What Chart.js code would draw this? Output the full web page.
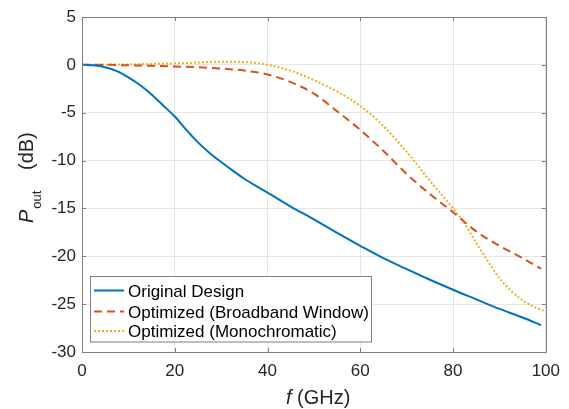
<!DOCTYPE html>
<html>
<head>
<meta charset="utf-8">
<script src="https://cdn.jsdelivr.net/npm/chart.js@4.4.1/dist/chart.umd.min.js"></script>
<style>
  body { margin: 0; background: #fff; }
  #wrap { width: 569px; height: 409px; }
</style>
</head>
<body>
<div id="wrap"><canvas id="poutChart" width="569" height="409"></canvas></div>
<script>
// frequency points (GHz) and output power (dB)
const freqOrig = [0, 2.5, 5, 7.5, 10, 12.5, 15, 17.5, 20, 22.5, 25, 27.5, 30, 32.5, 35, 37.5, 40, 45, 50, 55, 60, 65, 70, 75, 80, 85, 90, 95, 99];
const poutOrig = [0, -0.05, -0.25, -0.65, -1.3, -2.1, -3.1, -4.25, -5.4, -6.8, -8.1, -9.2, -10.15, -11.05, -11.9, -12.65, -13.35, -14.8, -16.15, -17.55, -18.9, -20.2, -21.35, -22.45, -23.5, -24.5, -25.5, -26.4, -27.2];

const freqBroad = [0, 5, 10, 15, 20, 25, 30, 35, 40, 45, 50, 55, 60, 65, 70, 75, 80, 85, 90, 95, 99];
const poutBroad = [0, 0, -0.05, -0.1, -0.17, -0.25, -0.38, -0.6, -1.0, -1.8, -3.0, -4.85, -6.8, -9.0, -11.4, -13.5, -15.4, -17.4, -18.9, -20.2, -21.3];

const freqMono = [0, 5, 10, 15, 20, 25, 30, 35, 40, 45, 50, 55, 60, 65, 70, 75, 80, 82.5, 85, 87.5, 90, 92.5, 95, 97.5, 100];
const poutMono = [0, 0.02, 0.05, 0.1, 0.15, 0.25, 0.33, 0.3, 0.0, -0.6, -1.6, -2.8, -4.3, -6.4, -9.1, -12.1, -15.0, -16.6, -18.6, -20.5, -22.3, -23.6, -24.6, -25.3, -25.8];

const seriesLabels = ['Original Design', 'Optimized (Broadband Window)', 'Optimized (Monochromatic)'];
const xTicks = [0, 20, 40, 60, 80, 100];
const yTicks = [-30, -25, -20, -15, -10, -5, 0, 5];

const FONT = '"Liberation Sans", Arial, Helvetica, sans-serif';
const axisGray = '#7f7f7f';
const textDark = '#262626';

function pts(xs, ys) {
    return xs.map((x, i) => ({ x: x, y: ys[i] }));
}

// box, inward ticks, axis titles and legend (MATLAB look)
const matlabDecor = {
    id: 'matlabDecor',
    afterDraw(chart) {
        const ctx = chart.ctx;
        const a = chart.chartArea;
        const xs = chart.scales.x;
        const ys = chart.scales.y;
        ctx.save();

        // frame
        ctx.strokeStyle = axisGray;
        ctx.lineWidth = 1;
        ctx.strokeRect(Math.round(a.left) + 0.5, Math.round(a.top) + 0.5,
            Math.round(a.right - a.left), Math.round(a.bottom - a.top));

        // inward ticks
        const tl = 4;
        ctx.beginPath();
        xTicks.forEach(v => {
            const px = Math.round(xs.getPixelForValue(v)) + 0.5;
            ctx.moveTo(px, a.bottom); ctx.lineTo(px, a.bottom - tl);
            ctx.moveTo(px, a.top); ctx.lineTo(px, a.top + tl);
        });
        yTicks.forEach(v => {
            const py = Math.round(ys.getPixelForValue(v)) + 0.5;
            ctx.moveTo(a.left, py); ctx.lineTo(a.left + tl, py);
            ctx.moveTo(a.right, py); ctx.lineTo(a.right - tl, py);
        });
        ctx.stroke();

        // legend
        const lx = 90.5, ly = 276.5, lw = 281, lh = 65.5;
        ctx.fillStyle = '#ffffff';
        ctx.fillRect(lx, ly, lw, lh);
        ctx.strokeStyle = axisGray;
        ctx.strokeRect(lx, ly, lw, lh);
        const rows = [290.5, 311.5, 331];
        chart.data.datasets.forEach((ds, i) => {
            ctx.strokeStyle = ds.borderColor;
            ctx.lineWidth = ds.borderWidth;
            ctx.setLineDash(ds.borderDash || []);
            ctx.beginPath();
            ctx.moveTo(94, rows[i]);
            ctx.lineTo(124, rows[i]);
            ctx.stroke();
            ctx.setLineDash([]);
            ctx.fillStyle = '#000';
            ctx.font = '17px ' + FONT;
            ctx.textBaseline = 'alphabetic';
            ctx.textAlign = 'left';
            ctx.fillText(ds.label, 128, rows[i] + 6);
        });

        // x title: f (GHz)
        ctx.fillStyle = textDark;
        ctx.textBaseline = 'alphabetic';
        ctx.textAlign = 'left';
        ctx.font = 'italic 20px ' + FONT;
        const fx = 286;
        ctx.fillText('f', fx, 404);
        const fw = ctx.measureText('f').width;
        ctx.font = '20px ' + FONT;
        ctx.fillText(' (GHz)', fx + fw, 404);

        // y title: P_out (dB)
        ctx.translate(33, 223);
        ctx.rotate(-Math.PI / 2);
        ctx.font = 'italic 20px ' + FONT;
        ctx.fillText('P', 0, 0);
        const pw = ctx.measureText('P').width;
        ctx.font = '13px ' + FONT;
        ctx.fillText('out', pw + 1, 8);
        ctx.font = '20px ' + FONT;
        ctx.fillText('(dB)', 53, 0);

        ctx.restore();
    }
};

const ctx = document.getElementById('poutChart').getContext('2d');
const chart = new Chart(ctx, {
    type: 'line',
    data: {
        datasets: [{
            label: seriesLabels[0],
            data: pts(freqOrig, poutOrig),
            borderColor: '#0072BD',
            borderWidth: 2,
            pointRadius: 0,
            cubicInterpolationMode: 'monotone'
        }, {
            label: seriesLabels[1],
            data: pts(freqBroad, poutBroad),
            borderColor: '#D95319',
            borderWidth: 2,
            borderDash: [8, 5],
            pointRadius: 0,
            cubicInterpolationMode: 'monotone'
        }, {
            label: seriesLabels[2],
            data: pts(freqMono, poutMono),
            borderColor: '#EDB120',
            borderWidth: 2,
            borderDash: [2, 2],
            pointRadius: 0,
            cubicInterpolationMode: 'monotone'
        }]
    },
    options: {
        responsive: false,
        animation: false,
        layout: { padding: { top: 17, right: 20, left: 0, bottom: 0 } },
        plugins: {
            legend: { display: false },
            tooltip: { enabled: false }
        },
        scales: {
            x: {
                type: 'linear',
                min: 0,
                max: 100,
                afterFit: s => { s.height = 57; },
                afterBuildTicks: s => { s.ticks = xTicks.map(v => ({ value: v })); },
                ticks: { color: textDark, font: { family: FONT, size: 17 }, padding: 9, maxRotation: 0 },
                grid: { color: '#e6e6e6', drawTicks: false },
                border: { display: false }
            },
            y: {
                min: -30,
                max: 5,
                afterFit: s => { s.width = 82; },
                afterBuildTicks: s => { s.ticks = yTicks.map(v => ({ value: v })); },
                ticks: { color: textDark, font: { family: FONT, size: 17 }, padding: 6 },
                grid: { color: '#e6e6e6', drawTicks: false },
                border: { display: false }
            }
        }
    },
    plugins: [matlabDecor]
});
</script>
</body>
</html>
